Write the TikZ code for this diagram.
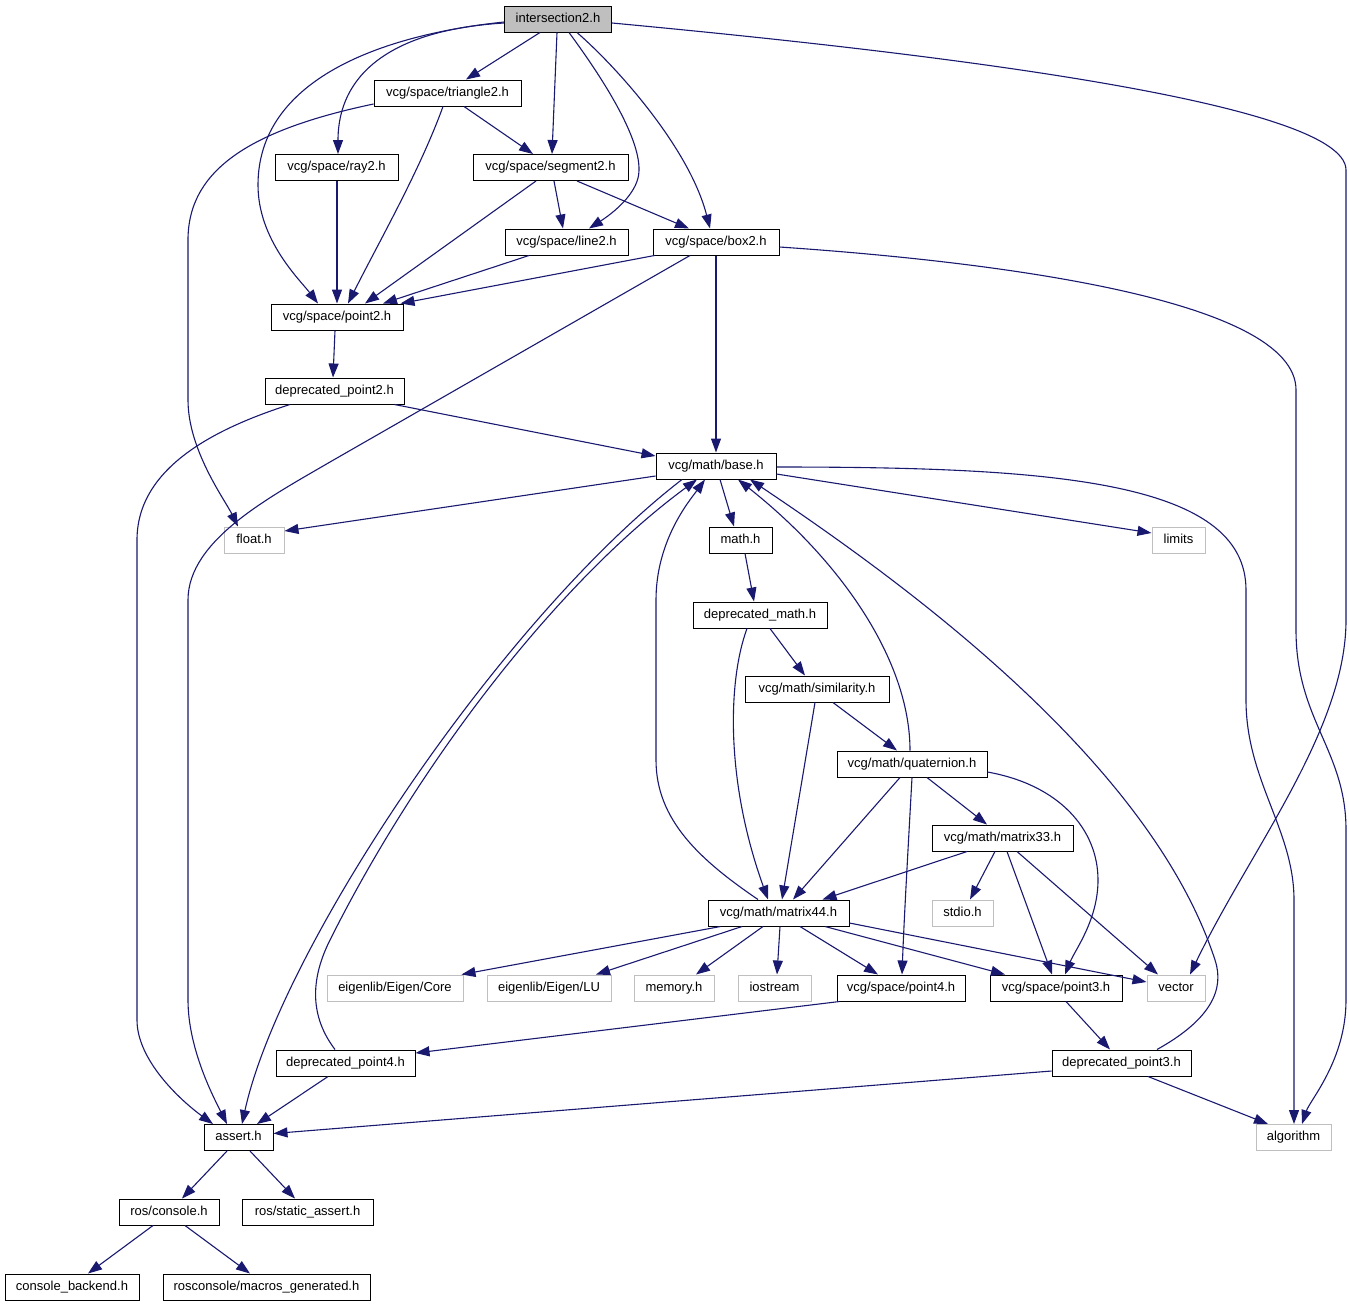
\documentclass[tikz,border=0pt]{standalone}
\usepackage{fontspec}
\setmainfont{Liberation Sans}
\usetikzlibrary{arrows.meta}
\definecolor{edgeblue}{HTML}{191970}
\definecolor{extgray}{HTML}{BFBFBF}
\definecolor{rootgray}{HTML}{BFBFBF}
\tikzset{
  nd/.style={draw=black, line width=1pt, fill=white, minimum height=26pt, inner sep=0pt,
    text height=9.4pt, text depth=2.6pt, font=\fontsize{13}{15}\selectfont},
  ext/.style={nd, draw=extgray},
  rootnd/.style={nd, fill=rootgray},
  edge/.style={draw=edgeblue, line width=1.1pt, -{Triangle[length=14pt,width=10pt,fill=edgeblue]}},
}
\begin{document}
\begin{tikzpicture}[x=1pt,y=-1pt]
\useasboundingbox (0,0) rectangle (1349,1307);
% nodes
\node[rootnd, minimum width=107pt] (inter) at (558,19) {intersection2.h};
\node[nd, minimum width=147pt] (tri) at (447.5,93) {vcg/space/triangle2.h};
\node[nd, minimum width=123pt] (ray) at (336.5,167.5) {vcg/space/ray2.h};
\node[nd, minimum width=155pt] (seg) at (550.5,167.5) {vcg/space/segment2.h};
\node[nd, minimum width=123pt] (line) at (566.5,242) {vcg/space/line2.h};
\node[nd, minimum width=126pt] (box) at (716,242) {vcg/space/box2.h};
\node[nd, minimum width=132pt] (pt2) at (337,317) {vcg/space/point2.h};
\node[nd, minimum width=139pt] (dpt2) at (334.5,391) {deprecated\_point2.h};
\node[nd, minimum width=120pt] (base) at (716,466) {vcg/math/base.h};
\node[ext, minimum width=60pt] (float) at (254,540) {float.h};
\node[nd, minimum width=63pt] (math) at (740.5,540) {math.h};
\node[ext, minimum width=53pt] (limits) at (1178.5,540) {limits};
\node[nd, minimum width=134pt] (dmath) at (760,615) {deprecated\_math.h};
\node[nd, minimum width=144pt] (sim) at (817,689) {vcg/math/similarity.h};
\node[nd, minimum width=150pt] (quat) at (912,764) {vcg/math/quaternion.h};
\node[nd, minimum width=141pt] (m33) at (1002.5,838) {vcg/math/matrix33.h};
\node[nd, minimum width=141pt] (m44) at (778.5,913) {vcg/math/matrix44.h};
\node[ext, minimum width=61pt] (stdio) at (962.5,913) {stdio.h};
\node[ext, minimum width=136pt] (core) at (395,988) {eigenlib/Eigen/Core};
\node[ext, minimum width=124pt] (LU) at (549,988) {eigenlib/Eigen/LU};
\node[ext, minimum width=80pt] (memory) at (674,988) {memory.h};
\node[ext, minimum width=73pt] (iostream) at (774.5,988) {iostream};
\node[nd, minimum width=128pt] (pt4) at (901,988) {vcg/space/point4.h};
\node[nd, minimum width=132pt] (pt3) at (1056,988) {vcg/space/point3.h};
\node[ext, minimum width=58pt] (vector) at (1176,988) {vector};
\node[nd, minimum width=139pt] (dpt4) at (345.5,1063) {deprecated\_point4.h};
\node[nd, minimum width=139pt] (dpt3) at (1121.5,1063) {deprecated\_point3.h};
\node[nd, minimum width=69pt] (assert) at (238.5,1137.5) {assert.h};
\node[ext, minimum width=75pt] (algorithm) at (1293.5,1137.5) {algorithm};
\node[nd, minimum width=100pt] (console) at (169,1212) {ros/console.h};
\node[nd, minimum width=131pt] (static) at (307.5,1212) {ros/static\_assert.h};
\node[nd, minimum width=134pt] (backend) at (72,1287) {console\_backend.h};
\node[nd, minimum width=207pt] (macros) at (266.5,1287) {rosconsole/macros\_generated.h};
% edges from intersection2.h
\draw[edge] ([xshift=-18pt]inter.south) -- ([xshift=18.5pt]tri.north);
\draw[edge] ([yshift=-4pt]inter.west) .. controls (390,30) and (338,75) .. ([xshift=1.5pt]ray.north);
\draw[edge] ([yshift=-3pt]inter.west) .. controls (380,35) and (258,80) .. (258,185) .. controls (258,240) and (300,280) .. ([xshift=-19pt]pt2.north);
\draw[edge] ([xshift=-1pt]inter.south) -- ([xshift=1.5pt]seg.north);
\draw[edge] ([xshift=11pt]inter.south) .. controls (615,95) and (645,150) .. (638,178) .. controls (633,198) and (610,215) .. ([xshift=22.5pt]line.north);
\draw[edge] ([xshift=19pt]inter.south) .. controls (620,70) and (690,150) .. ([xshift=-6pt]box.north);
\draw[edge] ([yshift=-4pt]inter.east) .. controls (900,50) and (1346,100) .. (1346,170) -- (1346,620) .. controls (1346,730) and (1250,850) .. ([xshift=14pt]vector.north);
% triangle2
\draw[edge] ([xshift=-4.5pt]tri.south) .. controls (420,170) and (380,240) .. ([xshift=11pt]pt2.north);
\draw[edge] ([xshift=16.5pt]tri.south) -- ([xshift=-17.5pt]seg.north);
\draw[edge] ([yshift=-11pt]tri.west) .. controls (250,130) and (188,170) .. (188,240) -- (188,400) .. controls (188,450) and (225,500) .. ([xshift=-16pt]float.north);
% ray2, segment2, line2
\draw[edge] ([xshift=0.5pt]ray.south) -- (pt2.north);
\draw[edge] ([xshift=-14.5pt]seg.south) -- ([xshift=28pt]pt2.north);
\draw[edge] ([xshift=3.5pt]seg.south) -- ([xshift=-3.5pt]line.north);
\draw[edge] ([xshift=26.5pt]seg.south) -- ([xshift=-27pt]box.north);
\draw[edge] ([xshift=-37.5pt]line.south) -- ([xshift=46pt]pt2.north);
% box2
\draw[edge] ([xshift=2pt]box.south west) -- ([xshift=-3pt]pt2.north east);
\draw[edge] (box.south) -- (base.north);
\draw[edge] ([xshift=-26pt]box.south) -- (330,462) .. controls (270,497) and (188,540) .. (188,600) -- (188,1000) .. controls (188,1050) and (215,1100) .. ([xshift=-11.5pt]assert.north);
\draw[edge] ([yshift=-5pt]box.east) .. controls (1000,262) and (1296,300) .. (1296,390) -- (1296,630) .. controls (1296,720) and (1346,750) .. (1346,830) -- (1346,1000) .. controls (1346,1060) and (1310,1100) .. ([xshift=8.5pt]algorithm.north);
% point2, deprecated_point2
\draw[edge] ([xshift=-2pt]pt2.south) -- ([xshift=-1.5pt]dpt2.north);
\draw[edge] ([xshift=-10pt]dpt2.south east) -- ([yshift=10pt]base.west);
\draw[edge] ([xshift=-44.5pt]dpt2.south) .. controls (210,430) and (137,470) .. (137,540) -- (137,1020) .. controls (137,1060) and (180,1100) .. ([xshift=-25.5pt]assert.north);
% base.h
\draw[edge] ([yshift=-10pt]base.west) -- ([yshift=9pt]float.east);
\draw[edge] ([xshift=4pt]base.south) -- ([xshift=-6.5pt]math.north);
\draw[edge] ([yshift=-8pt]base.east) -- ([yshift=7pt]limits.west);
\draw[edge] ([yshift=-1pt]base.east) .. controls (1050,467) and (1246,480) .. (1246,590) -- (1246,700) .. controls (1246,780) and (1294,830) .. (1294,900) -- ([xshift=0.5pt]algorithm.north);
\draw[edge] ([xshift=-34pt]base.south) .. controls (500,620) and (280,950) .. ([xshift=3.5pt]assert.north);
% back edges into base.h
\draw[edge] ([xshift=-10.5pt]dpt4.north) .. controls (305,1010) and (315,970) .. (330,940) .. controls (420,760) and (560,580) .. ([xshift=-19pt]base.south);
\draw[edge] ([xshift=-20.5pt]m44.north) .. controls (700,860) and (656,820) .. (656,760) -- (656,600) .. controls (656,540) and (690,500) .. ([xshift=-11pt]base.south);
\draw[edge] ([xshift=-2pt]quat.north) .. controls (910,660) and (840,560) .. ([xshift=22pt]base.south);
\draw[edge] ([xshift=35.5pt]dpt3.north) .. controls (1210,1020) and (1225,990) .. (1215,960) .. controls (1150,760) and (900,580) .. ([xshift=34pt]base.south);
% math chain
\draw[edge] ([xshift=4.5pt]math.south) -- ([xshift=-6pt]dmath.north);
\draw[edge] ([xshift=10pt]dmath.south) -- ([xshift=-12pt]sim.north);
\draw[edge] ([xshift=-13pt]dmath.south) .. controls (728,680) and (725,780) .. ([xshift=-10.5pt]m44.north);
\draw[edge] ([xshift=16pt]sim.south) -- ([xshift=-15pt]quat.north);
\draw[edge] ([xshift=-2pt]sim.south) -- ([xshift=3.5pt]m44.north);
\draw[edge] ([xshift=-12pt]quat.south) -- ([xshift=14.5pt]m44.north);
\draw[edge] ([xshift=15pt]quat.south) -- ([xshift=-15.5pt]m33.north);
\draw[edge] (quat.south) .. controls (908,850) and (904,920) .. ([xshift=1pt]pt4.north);
\draw[edge] ([yshift=-8pt]quat.east) .. controls (1060,785) and (1098,830) .. (1098,880) .. controls (1098,920) and (1075,950) .. ([xshift=9pt]pt3.north);
\draw[edge] ([xshift=-35.5pt]m33.south) -- ([xshift=44pt]m44.north);
\draw[edge] ([xshift=-7.5pt]m33.south) -- ([xshift=7.5pt]stdio.north);
\draw[edge] ([xshift=4.5pt]m33.south) -- ([xshift=-4pt]pt3.north);
\draw[edge] ([xshift=14.5pt]m33.south) -- ([xshift=-18pt]vector.north);
% matrix44
\draw[edge] ([xshift=13pt]m44.south west) -- ([xshift=-2pt]core.north east);
\draw[edge] ([xshift=-36.5pt]m44.south) -- ([xshift=47pt]LU.north);
\draw[edge] ([xshift=-15.5pt]m44.south) -- ([xshift=22pt]memory.north);
\draw[edge] ([xshift=1.5pt]m44.south) -- ([xshift=2.5pt]iostream.north);
\draw[edge] ([xshift=21.5pt]m44.south) -- ([xshift=-23pt]pt4.north);
\draw[edge] ([xshift=46.5pt]m44.south) -- ([xshift=-51pt]pt3.north);
\draw[edge] ([yshift=-10pt]m44.east) -- ([yshift=6pt]vector.west);
% point4, point3, deprecated
\draw[edge] ([xshift=3pt]pt4.south west) -- ([yshift=10pt]dpt4.east);
\draw[edge] ([xshift=10pt]pt3.south) -- ([xshift=-11.5pt]dpt3.north);
\draw[edge] ([xshift=-17.5pt]dpt4.south) -- ([xshift=18.5pt]assert.north);
\draw[edge] ([yshift=-8pt]dpt3.west) -- ([yshift=4pt]assert.east);
\draw[edge] ([xshift=26.5pt]dpt3.south) -- ([xshift=-25.5pt]algorithm.north);
% assert and ros
\draw[edge] ([xshift=-11.5pt]assert.south) -- ([xshift=13pt]console.north);
\draw[edge] ([xshift=11.5pt]assert.south) -- ([xshift=-12.5pt]static.north);
\draw[edge] ([xshift=-16pt]console.south) -- ([xshift=16pt]backend.north);
\draw[edge] ([xshift=16pt]console.south) -- ([xshift=-16.5pt]macros.north);
\end{tikzpicture}
\end{document}
